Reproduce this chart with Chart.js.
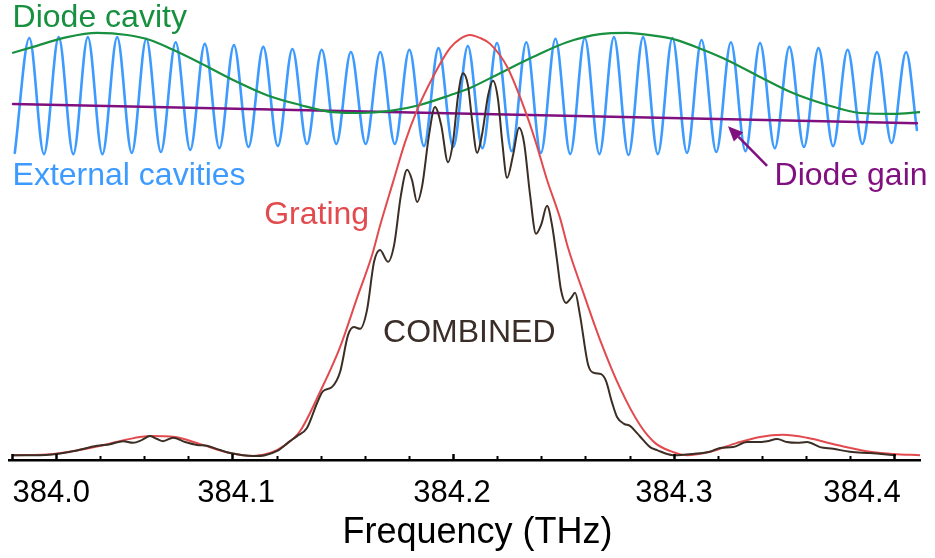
<!DOCTYPE html>
<html><head><meta charset="utf-8">
<script src="https://cdn.jsdelivr.net/npm/chart.js@4.4.1/dist/chart.umd.min.js"></script>
<style>html,body{margin:0;padding:0;background:#fff}canvas{display:block}</style>
</head><body>
<canvas id="c" width="935" height="558"></canvas>
<script>
// ---- axis ticks ----
const tickMarkValues = [384.02, 384.1, 384.2, 384.3, 384.4];
const tickLabelPositions = [384.0179, 384.1017, 384.1995, 384.3001, 384.3853];
const tickLabels = ['384.0', '384.1', '384.2', '384.3', '384.4'];
const minorTickValues = [384.04,384.06,384.08,384.12,384.14,384.16,384.18,384.22,384.24,384.26,384.28,384.32,384.34,384.36,384.38];
const edgeTickValues = [384.0];
const axisTitle = 'Frequency (THz)';
const axisTitlePos = [384.2111, -0.198];

// ---- COMBINED (dark) ----
const combinedFreq = [384.0006,384.0129,384.0265,384.0387,384.0446,384.0505,384.0550,384.0591,384.0627,384.0659,384.0686,384.0731,384.0786,384.0840,384.0885,384.0944,384.0990,384.1094,384.1148,384.1203,384.1261,384.1293,384.1338,384.1384,384.1411,384.1452,384.1488,384.1524,384.1551,384.1579,384.1610,384.1642,384.1669,384.1705,384.1733,384.1764,384.1792,384.1814,384.1837,384.1860,384.1891,384.1918,384.1946,384.1977,384.2000,384.2023,384.2045,384.2068,384.2086,384.2109,384.2131,384.2159,384.2181,384.2204,384.2222,384.2245,384.2272,384.2299,384.2322,384.2349,384.2376,384.2399,384.2426,384.2449,384.2471,384.2489,384.2512,384.2535,384.2553,384.2575,384.2612,384.2639,384.2671,384.2693,384.2720,384.2743,384.2775,384.2802,384.2834,384.2861,384.2893,384.2924,384.2997,384.3087,384.3164,384.3210,384.3269,384.3332,384.3377,384.3423,384.3468,384.3513,384.3559,384.3604,384.3663,384.3722,384.3799,384.3889,384.4003];
const combinedVal = [0.009,0.009,0.017,0.031,0.035,0.042,0.038,0.045,0.054,0.047,0.042,0.050,0.040,0.033,0.031,0.021,0.014,0.007,0.009,0.019,0.042,0.054,0.073,0.132,0.160,0.170,0.205,0.292,0.311,0.307,0.351,0.465,0.493,0.465,0.505,0.623,0.682,0.658,0.606,0.644,0.764,0.830,0.788,0.700,0.748,0.858,0.910,0.880,0.800,0.722,0.764,0.858,0.892,0.847,0.752,0.663,0.717,0.781,0.745,0.623,0.531,0.552,0.597,0.550,0.469,0.399,0.368,0.380,0.392,0.340,0.222,0.203,0.200,0.184,0.134,0.099,0.083,0.078,0.061,0.045,0.028,0.021,0.009,0.012,0.017,0.026,0.028,0.040,0.040,0.042,0.047,0.040,0.038,0.040,0.028,0.024,0.017,0.014,0.009];

// ---- Grating (red) ----
const gratingFreq = [384.0006,384.0188,384.0401,384.0514,384.0627,384.0740,384.0854,384.0990,384.1094,384.1171,384.1239,384.1307,384.1397,384.1488,384.1565,384.1633,384.1669,384.1728,384.1783,384.1837,384.1909,384.1986,384.2032,384.2077,384.2122,384.2168,384.2245,384.2317,384.2372,384.2426,384.2485,384.2521,384.2589,384.2666,384.2757,384.2847,384.2915,384.2983,384.3060,384.3164,384.3287,384.3391,384.3495,384.3604,384.3740,384.3889,384.3994,384.4116];
const gratingVal = [0.009,0.012,0.031,0.045,0.054,0.052,0.035,0.014,0.007,0.014,0.033,0.066,0.158,0.264,0.380,0.481,0.550,0.653,0.748,0.823,0.901,0.969,0.991,1.000,0.993,0.979,0.925,0.835,0.752,0.658,0.568,0.498,0.394,0.281,0.167,0.080,0.038,0.019,0.009,0.017,0.038,0.052,0.057,0.050,0.033,0.017,0.012,0.009];

// ---- Diode cavity (green) ----
const diodeCavFreq = [384.0006,384.0097,384.0251,384.0387,384.0523,384.0627,384.0731,384.0854,384.1003,384.1157,384.1307,384.1456,384.1579,384.1715,384.1850,384.1986,384.2077,384.2213,384.2362,384.2516,384.2666,384.2788,384.2915,384.3015,384.3133,384.3241,384.3391,384.3540,384.3695,384.3844,384.3994,384.4116];
const diodeCavVal = [0.958,0.972,0.995,1.005,1.000,0.988,0.965,0.934,0.894,0.858,0.835,0.818,0.816,0.821,0.835,0.858,0.875,0.910,0.948,0.983,1.002,1.005,0.998,0.988,0.965,0.941,0.901,0.863,0.835,0.816,0.814,0.818];

// ---- Diode gain (purple) ----
const diodeGainFreq = [384.0006, 384.4102];
const diodeGainVal = [0.837, 0.792];

// ---- External cavities (blue): troughs and peaks ----
const extTroughFreq = [384.0014,384.0146,384.0279,384.0411,384.0544,384.0676,384.0809,384.0941,384.1073,384.1206,384.1338,384.1471,384.1604,384.1736,384.1868,384.2001,384.2133,384.2266,384.2398,384.2531,384.2663,384.2795,384.2928,384.3060,384.3193,384.3325,384.3458,384.3590,384.3722,384.3855,384.3987];
const extTroughVal = [0.722,0.719,0.719,0.719,0.722,0.724,0.729,0.733,0.736,0.738,0.743,0.743,0.743,0.743,0.738,0.736,0.733,0.726,0.722,0.719,0.719,0.717,0.719,0.722,0.724,0.726,0.733,0.736,0.738,0.743,0.745];
const extPeakFreq = [384.0080,384.0213,384.0345,384.0478,384.0610,384.0743,384.0875,384.1007,384.1140,384.1272,384.1405,384.1537,384.1670,384.1802,384.1934,384.2067,384.2199,384.2332,384.2464,384.2597,384.2729,384.2861,384.2994,384.3126,384.3259,384.3391,384.3524,384.3656,384.3788,384.3921,384.4053];
const extPeakVal = [0.993,0.995,0.995,0.995,0.991,0.983,0.979,0.976,0.972,0.967,0.965,0.960,0.960,0.965,0.969,0.974,0.981,0.983,0.991,0.993,0.995,0.995,0.993,0.988,0.983,0.981,0.972,0.969,0.965,0.960,0.960];
const extEndFreq = [384.4102];
const extEndVal = [0.776];

// ---- annotations ----
const labelTexts = ['Diode cavity', 'External cavities', 'Diode gain', 'Grating', 'COMBINED'];
const labelFreq = [384.0004, 384.0004, 384.3457, 384.1144, 384.1683];
const labelVal = [1.019, 0.646, 0.646, 0.554, 0.276];
const labelColors = ['#17903f', '#3d9bff', '#80107f', '#e24a4e', '#3b2e28'];
const arrowFrom = [384.3423, 0.691];
const arrowTo = [384.3246, 0.785];

const FONT = '"Liberation Sans", Arial, Helvetica, sans-serif';
const pts = (xs, ys) => xs.map((x, i) => ({x: x, y: ys[i]}));
const extPts = pts(extTroughFreq, extTroughVal)
  .concat(pts(extPeakFreq, extPeakVal))
  .concat(pts(extEndFreq, extEndVal))
  .sort((a, b) => a.x - b.x);

const lineDs = (label, data, color, width, order) => ({
  label, data, borderColor: color, borderWidth: width, pointRadius: 0,
  fill: false, cubicInterpolationMode: 'monotone', order, borderCapStyle: 'round', borderJoinStyle: 'round'
});

const overlay = {
  id: 'overlay',
  afterDatasetsDraw(chart) {
    const ctx = chart.ctx, xs = chart.scales.x, ys = chart.scales.y;
    ctx.save();
    ctx.font = '32px ' + FONT;
    ctx.textAlign = 'left';
    ctx.textBaseline = 'alphabetic';
    labelTexts.forEach((t, i) => {
      ctx.fillStyle = labelColors[i];
      ctx.fillText(t, xs.getPixelForValue(labelFreq[i]), ys.getPixelForValue(labelVal[i]));
    });
    // arrow
    const x1 = xs.getPixelForValue(arrowFrom[0]), y1 = ys.getPixelForValue(arrowFrom[1]);
    const x2 = xs.getPixelForValue(arrowTo[0]), y2 = ys.getPixelForValue(arrowTo[1]);
    const ang = Math.atan2(y2 - y1, x2 - x1), L = 15, W = 6.5;
    const bx = x2 - L * Math.cos(ang), by = y2 - L * Math.sin(ang);
    ctx.strokeStyle = '#80107f'; ctx.fillStyle = '#80107f'; ctx.lineWidth = 2.5;
    ctx.beginPath(); ctx.moveTo(x1, y1); ctx.lineTo(bx, by); ctx.stroke();
    ctx.beginPath();
    ctx.moveTo(x2, y2);
    ctx.lineTo(bx + W * Math.sin(ang), by - W * Math.cos(ang));
    ctx.lineTo(bx - W * Math.sin(ang), by + W * Math.cos(ang));
    ctx.closePath(); ctx.fill();
    ctx.restore();
  },
  afterDraw(chart) {
    const ctx = chart.ctx, xs = chart.scales.x, ys = chart.scales.y;
    const base = chart.chartArea.bottom;
    ctx.save();
    ctx.strokeStyle = '#000';
    const mark = (v, len, w) => {
      const px = Math.round(xs.getPixelForValue(v)) + 0.5;
      ctx.lineWidth = w;
      ctx.beginPath(); ctx.moveTo(px, base + 1); ctx.lineTo(px, base - len); ctx.stroke();
    };
    tickMarkValues.forEach(v => mark(v, 6, 2.5));
    edgeTickValues.forEach(v => mark(v, 6, 2.5));
    minorTickValues.forEach(v => mark(v, 4, 2));
    // axis title
    ctx.fillStyle = '#000';
    ctx.font = '36px ' + FONT;
    ctx.textAlign = 'center';
    ctx.textBaseline = 'alphabetic';
    ctx.fillText(axisTitle, xs.getPixelForValue(axisTitlePos[0]), ys.getPixelForValue(axisTitlePos[1]));
    ctx.restore();
  }
};

new Chart(document.getElementById('c'), {
  type: 'line',
  data: {
    datasets: [
      lineDs('COMBINED', pts(combinedFreq, combinedVal), '#3b2e25', 2, 0),
      lineDs('Grating', pts(gratingFreq, gratingVal), '#e24a4e', 2, 1),
      lineDs('Diode cavity', pts(diodeCavFreq, diodeCavVal), '#17903f', 2.2, 2),
      lineDs('Diode gain', pts(diodeGainFreq, diodeGainVal), '#80107f', 2.5, 3),
      lineDs('External cavities', extPts, '#3d9bff', 2.6, 4)
    ]
  },
  options: {
    responsive: false,
    animation: false,
    devicePixelRatio: 1,
    layout: { padding: { left: 9.5, right: 15, top: 0, bottom: 0 } },
    plugins: { legend: { display: false }, tooltip: { enabled: false }, title: { display: false } },
    scales: {
      x: {
        type: 'linear', min: 383.999, max: 384.4116,
        afterBuildTicks: s => { s.ticks = tickLabelPositions.map(v => ({ value: v })); },
        afterFit: s => { s.height = 98; s.paddingLeft = 0; s.paddingRight = 0; },
        grid: { display: false, drawTicks: false },
        border: { display: true, color: '#000', width: 2.5 },
        ticks: {
          autoSkip: false, maxRotation: 0, minRotation: 0, padding: 15, color: '#000',
          font: { family: FONT, size: 31 },
          callback: (v, i) => tickLabels[i]
        },
        title: { display: false }
      },
      y: { type: 'linear', display: false, min: -0.0024, max: 1.0825 }
    }
  },
  plugins: [overlay]
});
</script>
</body></html>
